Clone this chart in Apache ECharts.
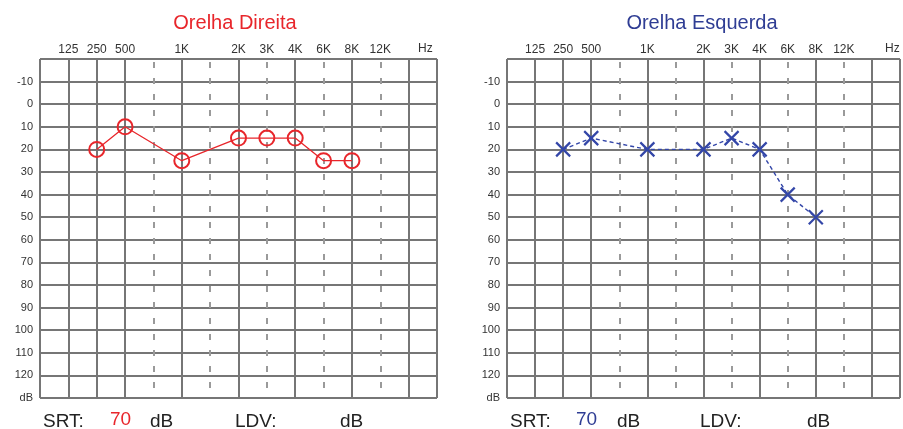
<!DOCTYPE html>
<html>
<head>
<meta charset="utf-8">
<script src="https://cdn.jsdelivr.net/npm/echarts@6/dist/echarts.min.js"></script>
<style>
html,body{margin:0;padding:0;background:#fff;}
#chart{width:903px;height:429px;}
</style>
</head>
<body>
<div id="chart"></div>
<script>
// Frequency columns (grid positions) and their tick labels
const freqColumns = ['edge','125','250','500','750','1K','1.5K','2K','3K','4K','6K','8K','12K','16K','end'];
const freqTickLabels = ['', '125', '250', '500', '', '1K', '', '2K', '3K', '4K', '6K', '8K', '12K', '', ''];
const solidColumns = ['edge','125','250','500','1K','2K','4K','8K','16K','end'];
const dashedColumns = ['750','1.5K','3K','6K','12K'];
const freqUnit = 'Hz';

// Hearing levels (dB)
const rightEarFreqs = ['250','500','1K','2K','3K','4K','6K','8K'];
const rightEarDb = [20, 10, 25, 15, 15, 15, 25, 25];
const leftEarFreqs = ['250','500','1K','2K','3K','4K','6K','8K'];
const leftEarDb = [20, 15, 20, 20, 15, 20, 40, 50];

const srtRight = 70;
const srtLeft = 70;

const titles = ['Orelha Direita', 'Orelha Esquerda'];

const RED = '#e8262b';
const BLUE = '#3346a8';
const GRIDC = '#767676';
const FONT = 'Liberation Sans, Arial, sans-serif';

function xAxesFor(gridIndex) {
  return [
    {
      gridIndex, type: 'category', position: 'top', data: freqColumns, boundaryGap: false,
      axisLine: { show: true, lineStyle: { color: GRIDC, width: 2 } },
      axisTick: { show: false },
      axisLabel: {
        interval: 0, margin: 3, fontSize: 12, color: '#333', fontFamily: FONT,
        formatter: (v, i) => freqTickLabels[i]
      },
      splitLine: {
        show: true,
        interval: (i, v) => solidColumns.indexOf(v) >= 0,
        lineStyle: { color: GRIDC, width: 2 }
      }
    },
    {
      gridIndex, type: 'category', position: 'top', data: freqColumns, boundaryGap: false,
      axisLine: { show: false }, axisTick: { show: false }, axisLabel: { show: false },
      splitLine: {
        show: true,
        interval: (i, v) => dashedColumns.indexOf(v) >= 0,
        lineStyle: { color: '#9a9a9a', width: 2, type: [6, 10], dashOffset: -3 }
      }
    }
  ];
}

function yAxisFor(gridIndex) {
  return {
    gridIndex, type: 'value', inverse: true, min: -20, max: 130, interval: 10,
    axisLine: { show: false }, axisTick: { show: false },
    axisLabel: {
      margin: 7, fontSize: 11, color: '#333', fontFamily: FONT, padding: [0,0,7,0],
      formatter: v => v === -20 ? '' : (v === 130 ? 'dB' : String(v))
    },
    splitLine: { show: true, showMinLine: true, showMaxLine: true, lineStyle: { color: GRIDC, width: 2 } }
  };
}

const chart = echarts.init(document.getElementById('chart'), null, { renderer: 'canvas' });

const bottomTextStyle = { fontSize: 19, fontFamily: FONT, fill: '#222' };
const hzStyle = { text: freqUnit, fontSize: 12, fontFamily: FONT, fill: '#333' };

chart.setOption({
  animation: false,
  backgroundColor: '#fff',
  title: [
    { text: titles[0], left: 230, top: 8, textAlign: 'center', textStyle: { color: RED, fontSize: 20, fontWeight: 'normal', fontFamily: FONT } },
    { text: titles[1], left: 697, top: 8, textAlign: 'center', textStyle: { color: '#2f3d94', fontSize: 20, fontWeight: 'normal', fontFamily: FONT } }
  ],
  grid: [
    { left: 40, top: 59, width: 397, height: 339 },
    { left: 507, top: 59, width: 397, height: 339 }
  ],
  xAxis: [...xAxesFor(0), ...xAxesFor(1)],
  yAxis: [yAxisFor(0), yAxisFor(1)],
  series: [
    {
      type: 'line', xAxisIndex: 0, yAxisIndex: 0,
      data: rightEarFreqs.map((f, i) => [f, rightEarDb[i]]),
      symbol: 'circle', symbolSize: 15,
      itemStyle: { color: 'rgba(0,0,0,0)', borderColor: RED, borderWidth: 2 },
      lineStyle: { color: RED, width: 1.3 }
    },
    {
      type: 'line', xAxisIndex: 2, yAxisIndex: 1,
      data: leftEarFreqs.map((f, i) => [f, leftEarDb[i]]),
      symbol: 'path://M0,0L10,10M10,0L0,10', symbolSize: 14,
      itemStyle: { color: 'rgba(0,0,0,0)', borderColor: BLUE, borderWidth: 2.2 },
      lineStyle: { color: BLUE, width: 1.4, type: [4, 3] }
    }
  ],
  graphic: [
    { type: 'text', left: 418, top: 43, style: hzStyle },
    { type: 'text', left: 885, top: 43, style: hzStyle },
    { type: 'text', left: 43, top: 412, style: Object.assign({ text: 'SRT:' }, bottomTextStyle) },
    { type: 'text', left: 110, top: 410, style: Object.assign({}, bottomTextStyle, { text: String(srtRight), fill: RED }) },
    { type: 'text', left: 150, top: 412, style: Object.assign({ text: 'dB' }, bottomTextStyle) },
    { type: 'text', left: 235, top: 412, style: Object.assign({ text: 'LDV:' }, bottomTextStyle) },
    { type: 'text', left: 340, top: 412, style: Object.assign({ text: 'dB' }, bottomTextStyle) },
    { type: 'text', left: 510, top: 412, style: Object.assign({ text: 'SRT:' }, bottomTextStyle) },
    { type: 'text', left: 576, top: 410, style: Object.assign({}, bottomTextStyle, { text: String(srtLeft), fill: '#2f3d94' }) },
    { type: 'text', left: 617, top: 412, style: Object.assign({ text: 'dB' }, bottomTextStyle) },
    { type: 'text', left: 700, top: 412, style: Object.assign({ text: 'LDV:' }, bottomTextStyle) },
    { type: 'text', left: 807, top: 412, style: Object.assign({ text: 'dB' }, bottomTextStyle) }
  ]
});
</script>
</body>
</html>
